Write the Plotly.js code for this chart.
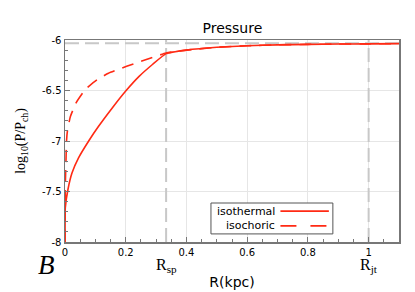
<!DOCTYPE html>
<html>
<head>
<meta charset="utf-8">
<script src="https://cdn.plot.ly/plotly-3.0.1.min.js"></script>
<style>html,body{margin:0;padding:0;background:#fff;}#chart{width:415px;height:292px;}</style>
</head>
<body>
<div id="chart"></div>
<script>
// Data
const R_iso = [0, 0.0003, 0.001, 0.0097, 0.023, 0.045, 0.078, 0.11, 0.155, 0.2, 0.244, 0.289, 0.333, 0.4, 0.5, 0.6, 0.7, 0.8, 0.9, 1.0, 1.1];
const logP_iso = [-8, -7.8, -7.66, -7.48, -7.317, -7.165, -7.0, -6.857, -6.675, -6.505, -6.36, -6.24, -6.135, -6.1, -6.072, -6.057, -6.048, -6.043, -6.04, -6.038, -6.036];
const R_cho = [0, 0.0005, 0.0015, 0.003, 0.005, 0.008, 0.0175, 0.036, 0.067, 0.105, 0.143, 0.203, 0.258, 0.333, 0.4, 0.5, 0.6, 0.7, 0.8, 0.9, 1.0, 1.1];
const logP_cho = [-8, -7.6, -7.38, -7.22, -7.0, -6.9, -6.76, -6.625, -6.49, -6.395, -6.33, -6.26, -6.204, -6.129, -6.1, -6.072, -6.057, -6.048, -6.043, -6.04, -6.038, -6.036];
const Rsp = 0.333;
const Rjt = 1.0;
const logP_asym = -6.033;
const xRange = [0, 1.1];
const yRange = [-8, -6];
const xTicks = [0, 0.2, 0.4, 0.6, 0.8, 1];
const xTickText = ['0', '0.2', '0.4', '0.6', '0.8', '1'];
const yTicks = [-8, -7.5, -7, -6.5, -6];
const yTickText = ['-8', '-7.5', '-7', '-6.5', '-6'];
const legendNames = ['isothermal', 'isochoric'];

const red = '#ff2a14';
const gray = '#c8c8c8';

const traces = [
  {x: [xRange[0], xRange[1]], y: [logP_asym, logP_asym], mode: 'lines', line: {color: gray, width: 2, dash: '14px,6px'}, hoverinfo: 'skip'},
  {x: [Rsp, Rsp], y: yRange, mode: 'lines', line: {color: gray, width: 2, dash: '14px,6px'}, hoverinfo: 'skip'},
  {x: [Rjt, Rjt], y: yRange, mode: 'lines', line: {color: gray, width: 2, dash: '14px,6px'}, hoverinfo: 'skip'},
  {x: R_iso, y: logP_iso, mode: 'lines', name: legendNames[0], line: {color: red, width: 1.6, shape: 'spline', smoothing: 0.4}},
  {x: R_cho, y: logP_cho, mode: 'lines', name: legendNames[1], line: {color: red, width: 1.6, dash: '12px,8px', shape: 'spline', smoothing: 0.4}}
];

const sans = 'DejaVu Sans, sans-serif';
const serif = 'Liberation Serif, DejaVu Serif, serif';

const layout = {
  width: 415, height: 292,
  margin: {l: 65, r: 16, t: 40, b: 50},
  paper_bgcolor: '#fff', plot_bgcolor: '#fff',
  showlegend: false,
  title: {text: 'Pressure', font: {family: sans, size: 14, color: '#000'}, x: 0.56, xanchor: 'center', y: 0.905, yanchor: 'middle'},
  xaxis: {
    range: xRange, tickvals: xTicks, ticktext: xTickText,
    ticks: 'inside', ticklen: 5, tickcolor: '#777', tickwidth: 1,
    minor: {dtick: 0.05, ticks: 'inside', ticklen: 3, tickcolor: '#777', showgrid: false},
    showgrid: true, gridcolor: '#e6e6e6', gridwidth: 1,
    showline: true, linecolor: '#777', linewidth: 1.5, mirror: true, zeroline: false,
    tickfont: {family: sans, size: 10, color: '#000'},
    title: {text: 'R(kpc)', font: {family: sans, size: 14, color: '#000'}, standoff: 20}
  },
  yaxis: {
    range: yRange, tickvals: yTicks, ticktext: yTickText,
    ticks: 'inside', ticklen: 5, tickcolor: '#777', tickwidth: 1,
    minor: {dtick: 0.1, ticks: 'inside', ticklen: 3, tickcolor: '#777', showgrid: false},
    showgrid: true, gridcolor: '#e6e6e6', gridwidth: 1,
    showline: true, linecolor: '#777', linewidth: 1.5, mirror: true, zeroline: false,
    tickfont: {family: sans, size: 10, color: '#000'},
    title: {text: 'log<sub>10</sub>(P/P<sub>ch</sub>)', font: {family: serif, size: 14, color: '#000'}, standoff: 13}
  },
  annotations: [
    {xref: 'x', yref: 'paper', x: Rsp, y: -0.065, yanchor: 'top', borderpad: 0, text: 'R<sub>sp</sub>', showarrow: false, font: {family: serif, size: 16, color: '#000'}},
    {xref: 'x', yref: 'paper', x: Rjt, y: -0.065, yanchor: 'top', borderpad: 0, text: 'R<sub>jt</sub>', showarrow: false, font: {family: serif, size: 16, color: '#000'}},
    {xref: 'paper', yref: 'paper', x: -0.025, y: -0.03, xanchor: 'right', yanchor: 'top', text: '<i>B</i>', showarrow: false, font: {family: serif, size: 27, color: '#000'}},
    {xref: 'paper', yref: 'paper', x: 0.635, y: 0.153, xanchor: 'right', yanchor: 'middle', text: legendNames[0], showarrow: false, font: {family: sans, size: 11, color: '#000'}},
    {xref: 'paper', yref: 'paper', x: 0.635, y: 0.08, xanchor: 'right', yanchor: 'middle', text: legendNames[1], showarrow: false, font: {family: sans, size: 11, color: '#000'}}
  ],
  shapes: [
    {type: 'rect', xref: 'paper', yref: 'paper', x0: 0.437, x1: 0.802, y0: 0.04, y1: 0.193, line: {color: '#555', width: 1}, fillcolor: 'rgba(255,255,255,1)'},
    {type: 'line', xref: 'paper', yref: 'paper', x0: 0.645, x1: 0.79, y0: 0.153, y1: 0.153, line: {color: red, width: 1.6}},
    {type: 'line', xref: 'paper', yref: 'paper', x0: 0.645, x1: 0.79, y0: 0.08, y1: 0.08, line: {color: red, width: 1.6, dash: '16px,14px'}}
  ]
};

Plotly.newPlot('chart', traces, layout, {staticPlot: true, displayModeBar: false});
</script>
</body>
</html>
